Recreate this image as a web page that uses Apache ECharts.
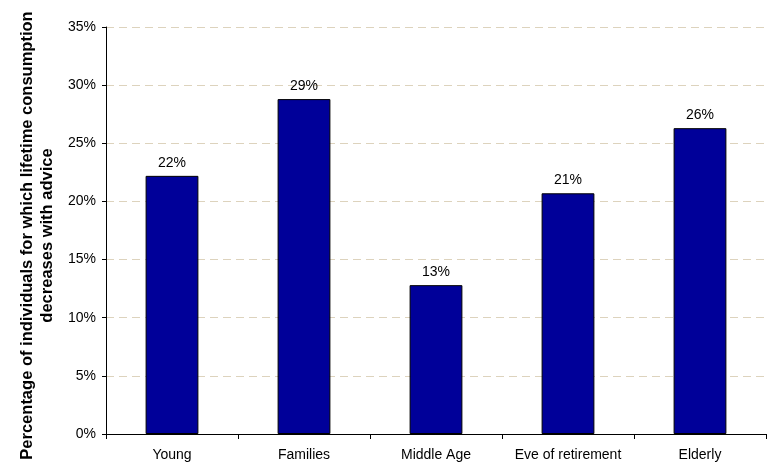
<!DOCTYPE html>
<html>
<head>
<meta charset="utf-8">
<script src="https://cdn.jsdelivr.net/npm/echarts@6/dist/echarts.min.js"></script>
<style>
  html, body { margin: 0; padding: 0; background: #fff; }
  #chart { width: 767px; height: 470px; }
</style>
</head>
<body>
<div id="chart"></div>
<script>
// Household groups and the share (%) whose lifetime consumption falls with advice
const categories = ['Young', 'Families', 'Middle Age', 'Eve of retirement', 'Elderly'];
const shareDecreasing = [22.2, 28.8, 12.8, 20.7, 26.3];

// Value axis range and step (percent)
const yMin = 0;
const yMax = 35;
const yStep = 5;

const axisTitle = 'Percentage of individuals for which lifetime consumption\ndecreases with advice';

const chart = echarts.init(document.getElementById('chart'), null, { renderer: 'canvas' });

const font = 'Liberation Sans, Arial, sans-serif';

chart.setOption({
  animation: false,
  backgroundColor: '#ffffff',
  grid: { left: 106, right: 1, top: 27, bottom: 36, containLabel: false, outerBoundsMode: 'none' },
  xAxis: {
    type: 'category',
    data: categories,
    axisLine: { show: true, lineStyle: { color: '#000', width: 1 } },
    axisTick: { show: true, alignWithLabel: false, length: 5, lineStyle: { color: '#000' } },
    axisLabel: { color: '#000', fontSize: 14, fontFamily: font, margin: 14, interval: 0, hideOverlap: false },
    splitLine: { show: false }
  },
  yAxis: {
    type: 'value',
    min: yMin,
    max: yMax,
    interval: yStep,
    name: axisTitle,
    nameLocation: 'middle',
    nameGap: 48,
    nameRotate: 90,
    nameTextStyle: {
      color: '#000', fontSize: 16.5, fontWeight: 'bold', fontFamily: font,
      lineHeight: 20, padding: [0, 10, 0, 0]
    },
    axisLine: { show: true, lineStyle: { color: '#000', width: 1 } },
    axisTick: { show: true, length: 4, lineStyle: { color: '#000' } },
    axisLabel: { color: '#000', fontSize: 14, fontFamily: font, margin: 10, formatter: v => v + '%' },
    splitLine: { show: true, lineStyle: { color: '#ddd3bd', type: [8, 5], width: 1 } }
  },
  series: [{
    type: 'bar',
    data: shareDecreasing,
    barWidth: '40%',
    itemStyle: { color: '#000099', borderColor: '#000000', borderWidth: 1 },
    label: {
      show: true,
      position: 'top',
      distance: 6,
      color: '#000',
      fontSize: 14,
      fontFamily: font,
      formatter: p => Math.round(p.value) + '%'
    }
  }]
});
</script>
</body>
</html>
